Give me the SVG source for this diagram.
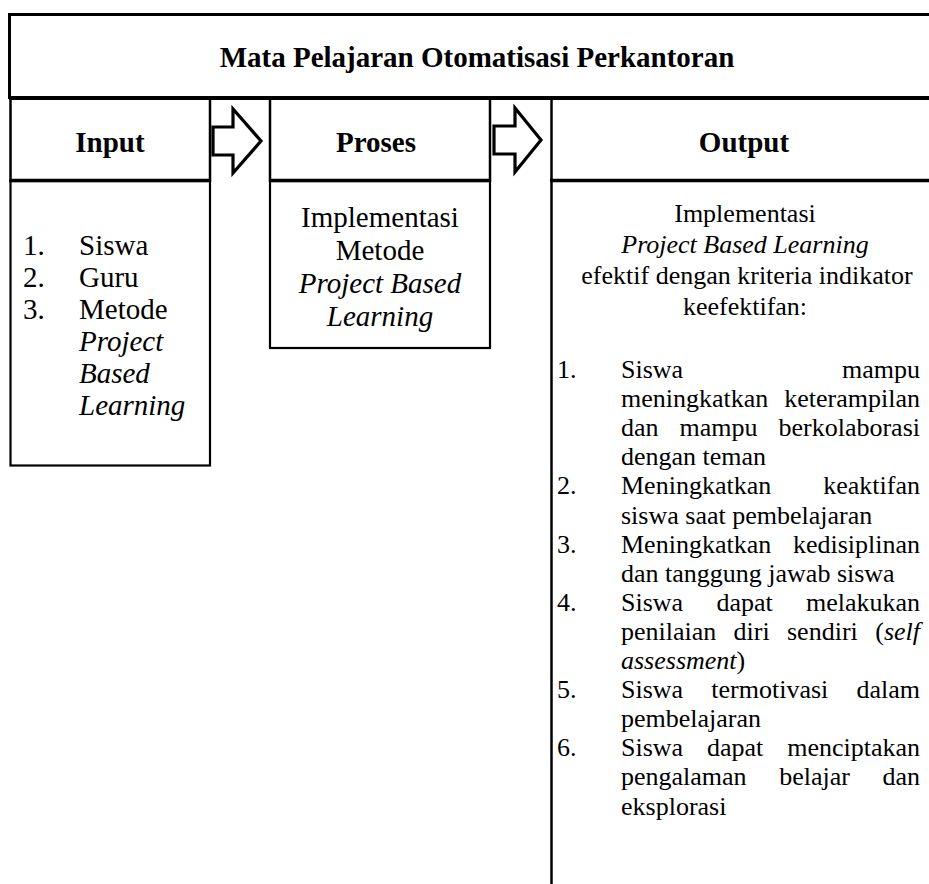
<svg xmlns="http://www.w3.org/2000/svg" width="929" height="884" viewBox="0 0 929 884">
<style>
  .bg{fill:#ffffff}
  .box{fill:none;stroke:#000;stroke-width:2.2}
  .thick{stroke:#000;stroke-width:3.5;fill:none}
  .ln{stroke:#000;stroke-width:2.5;fill:none}
  .arrow{fill:#fff;stroke:#000;stroke-width:3.2;stroke-linejoin:miter}
  text{font-family:"Liberation Serif","Times New Roman",serif;fill:#000}
  .h{font-size:29px;font-weight:bold}
  .b{font-size:29px}
  .o{font-size:26px}
  .i{font-style:italic}
  .c{text-anchor:middle}
  .e{text-anchor:end}
</style>
<rect class="bg" x="0" y="0" width="929" height="884"/>

<g id="title">
  <rect x="9.5" y="14.5" width="935" height="83" fill="none" stroke="#000" stroke-width="3"/>
  <line class="thick" x1="9" y1="98" x2="929" y2="98" style="stroke-width:4"/>
  <text class="h c" x="477" y="67">Mata Pelajaran Otomatisasi Perkantoran</text>
</g>

<g id="input">
  <rect class="box" x="10.5" y="98" width="199.5" height="82.5" style="stroke-width:2.5"/>
  <line class="thick" x1="9.5" y1="180.5" x2="211" y2="180.5"/>
  <text class="h c" x="110" y="152">Input</text>
  <rect class="box" x="10.5" y="181" width="199.5" height="284.5"/>
  <g class="b">
    <text x="23" y="255">1.</text><text x="79" y="255">Siswa</text>
    <text x="23" y="287">2.</text><text x="79" y="287">Guru</text>
    <text x="23" y="319">3.</text><text x="79" y="319">Metode</text>
    <text class="i" x="79" y="351">Project</text>
    <text class="i" x="79" y="383">Based</text>
    <text class="i" x="79" y="415">Learning</text>
  </g>
</g>

<g id="proses">
  <rect class="box" x="270" y="98" width="220" height="82.5" style="stroke-width:2.5"/>
  <line class="thick" x1="269" y1="180.5" x2="491" y2="180.5"/>
  <text class="h c" x="376" y="152">Proses</text>
  <rect class="box" x="270" y="181" width="220" height="167"/>
  <g class="b c">
    <text x="380" y="227">Implementasi</text>
    <text x="380" y="260">Metode</text>
    <text class="i" x="380" y="293">Project Based</text>
    <text class="i" x="380" y="326">Learning</text>
  </g>
</g>

<g id="output">
  <line class="ln" x1="551.5" y1="98" x2="551.5" y2="884"/>
  <line class="thick" x1="550" y1="180.5" x2="929" y2="180.5"/>
  <text class="h c" x="744" y="152">Output</text>
  <g class="o c">
    <text x="745" y="222">Implementasi</text>
    <text class="i" x="745" y="253">Project Based Learning</text>
    <text x="747" y="284">efektif dengan kriteria indikator</text>
    <text x="745" y="315">keefektifan:</text>
  </g>
  <g class="o">
    <text x="557" y="378">1.</text><text x="621" y="378">Siswa</text><text class="e" x="920" y="378">mampu</text>
    <text x="621" y="407.1">meningkatkan</text><text class="e" x="920" y="407.1">keterampilan</text>
    <text x="621" y="436.2">dan</text><text x="679.5" y="436.2">mampu</text><text class="e" x="920" y="436.2">berkolaborasi</text>
    <text x="621" y="465.3">dengan teman</text>
    <text x="557" y="494.4">2.</text><text x="621" y="494.4">Meningkatkan</text><text class="e" x="920" y="494.4">keaktifan</text>
    <text x="621" y="523.5">siswa saat pembelajaran</text>
    <text x="557" y="552.6">3.</text><text x="621" y="552.6">Meningkatkan</text><text class="e" x="920" y="552.6">kedisiplinan</text>
    <text x="621" y="581.7">dan tanggung jawab siswa</text>
    <text x="557" y="610.8">4.</text><text x="621" y="610.8">Siswa</text><text x="716.4" y="610.8">dapat</text><text class="e" x="920" y="610.8">melakukan</text>
    <text x="621" y="639.9">penilaian</text><text x="733.6" y="639.9">diri</text><text x="787" y="639.9">sendiri</text><text class="e" x="920" y="639.9">(<tspan class="i">self</tspan></text>
    <text x="621" y="669"><tspan class="i">assessment</tspan>)</text>
    <text x="557" y="698.1">5.</text><text x="621" y="698.1">Siswa</text><text x="711.3" y="698.1">termotivasi</text><text class="e" x="920" y="698.1">dalam</text>
    <text x="621" y="727.2">pembelajaran</text>
    <text x="557" y="756.3">6.</text><text x="621" y="756.3">Siswa</text><text x="707" y="756.3">dapat</text><text class="e" x="920" y="756.3">menciptakan</text>
    <text x="621" y="785.4">pengalaman</text><text x="779.2" y="785.4">belajar</text><text class="e" x="920" y="785.4">dan</text>
    <text x="621" y="814.5">eksplorasi</text>
  </g>
</g>

<g id="connectors">
  <polygon class="arrow" points="213,127 233,127 233,109 261,141 233,173 233,155 213,155"/>
  <polygon class="arrow" points="494,126 515,126 515,108 541,140 515,172 515,154 494,154"/>
</g>
</svg>
